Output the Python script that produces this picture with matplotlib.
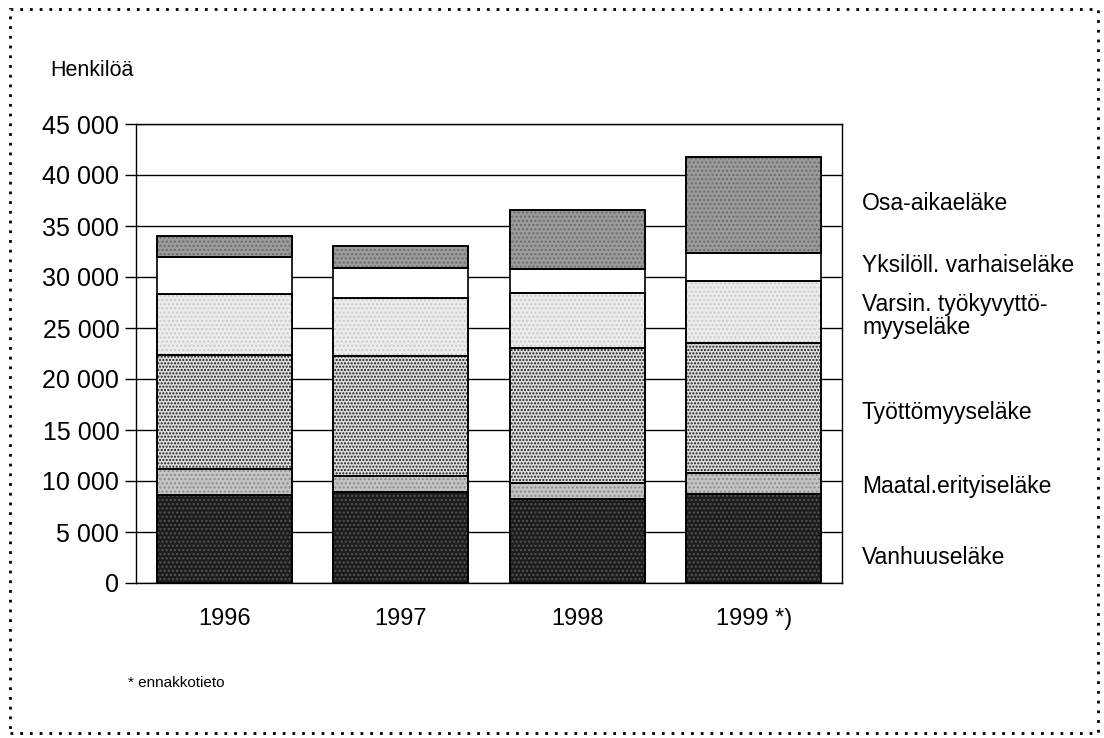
import numpy as np
import matplotlib
matplotlib.use("Agg")
import matplotlib.pyplot as plt
from matplotlib.patches import Rectangle

plt.rcParams['font.family'] = ['Liberation Sans', 'DejaVu Sans']

years = ['1996', '1997', '1998', '1999 *)']
series = ['Vanhuuseläke', 'Maatal.erityiseläke', 'Työttömyyseläke',
          'Varsin. työkyvyttö-\nmyyseläke', 'Yksilöll. varhaiseläke', 'Osa-aikaeläke']
vanhuus = [8600, 8950, 8200, 8700]
maatal = [2580, 1510, 1570, 2110]
tyott = [11170, 11830, 13300, 12750]
varsin = [6010, 5680, 5390, 6080]
yksiloll = [3640, 2880, 2350, 2680]
osa_aika = [2000, 2220, 5760, 9480]
values = [vanhuus, maatal, tyott, varsin, yksiloll, osa_aika]

# grey shades + texture (hatch colour) to mimic the print
faces = ['#1c1c1c', '#c4c4c4', '#dcdcdc', '#ececec', '#ffffff', '#9a9a9a']
hatches = ['....', '....', '.....', '....', None, '....']
hcolors = ['#555555', '#8a8a8a', '#1a1a1a', '#c8c8c8', None, '#6a6a6a']
label_y = [558, 487, 412, 316, 265, 203]

fig = plt.figure(figsize=(11.04, 7.38), dpi=100)
ax = fig.add_axes([136 / 1104, 1 - 583 / 738, 706 / 1104, 459 / 738])

x = np.arange(len(years))
bottom = np.zeros(len(years))
for vals, fc, h, hc in zip(values, faces, hatches, hcolors):
    vals = np.array(vals)
    ax.bar(x, vals, bottom=bottom, width=0.765, color=fc, edgecolor='black',
           linewidth=1.2, zorder=2)
    if h:
        ax.bar(x, vals, bottom=bottom, width=0.765, fill=False, hatch=h,
               edgecolor=hc, linewidth=0, zorder=3)
        ax.bar(x, vals, bottom=bottom, width=0.765, fill=False,
               edgecolor='black', linewidth=1.2, zorder=4)
    bottom += vals

ax.set_xlim(-0.5, 3.5)
ax.set_ylim(0, 45000)
ax.set_yticks(np.arange(0, 45001, 5000))
ax.set_yticklabels([f'{v:,}'.replace(',', ' ') for v in range(0, 45001, 5000)],
                   fontsize=18)
ax.set_xticks(x)
ax.set_xticklabels(years, fontsize=17)
ax.tick_params(axis='x', length=0, pad=18)
ax.tick_params(axis='y', length=8, width=1, pad=4)
ax.yaxis.grid(True, color='black', linewidth=1, zorder=0)
ax.set_axisbelow(True)
for s in ax.spines.values():
    s.set_linewidth(1)

for name, ly in zip(series, label_y):
    fig.text(862 / 1104, 1 - ly / 738, name, fontsize=16.5, va='center',
             ha='left', linespacing=1.05)

fig.text(50 / 1104, 1 - 70 / 738, 'Henkilöä', fontsize=15.5, va='center')
fig.text(128 / 1104, 1 - 683 / 738, '* ennakkotieto', fontsize=11, va='center')

# dotted frame around the whole figure
fig.patches.append(Rectangle((10 / 1104, 5 / 738), 1088 / 1104, 724 / 738,
                             transform=fig.transFigure, fill=False,
                             linestyle=(0, (1, 2.5)), linewidth=2,
                             edgecolor='black'))

fig.savefig('out.png', dpi=100)
